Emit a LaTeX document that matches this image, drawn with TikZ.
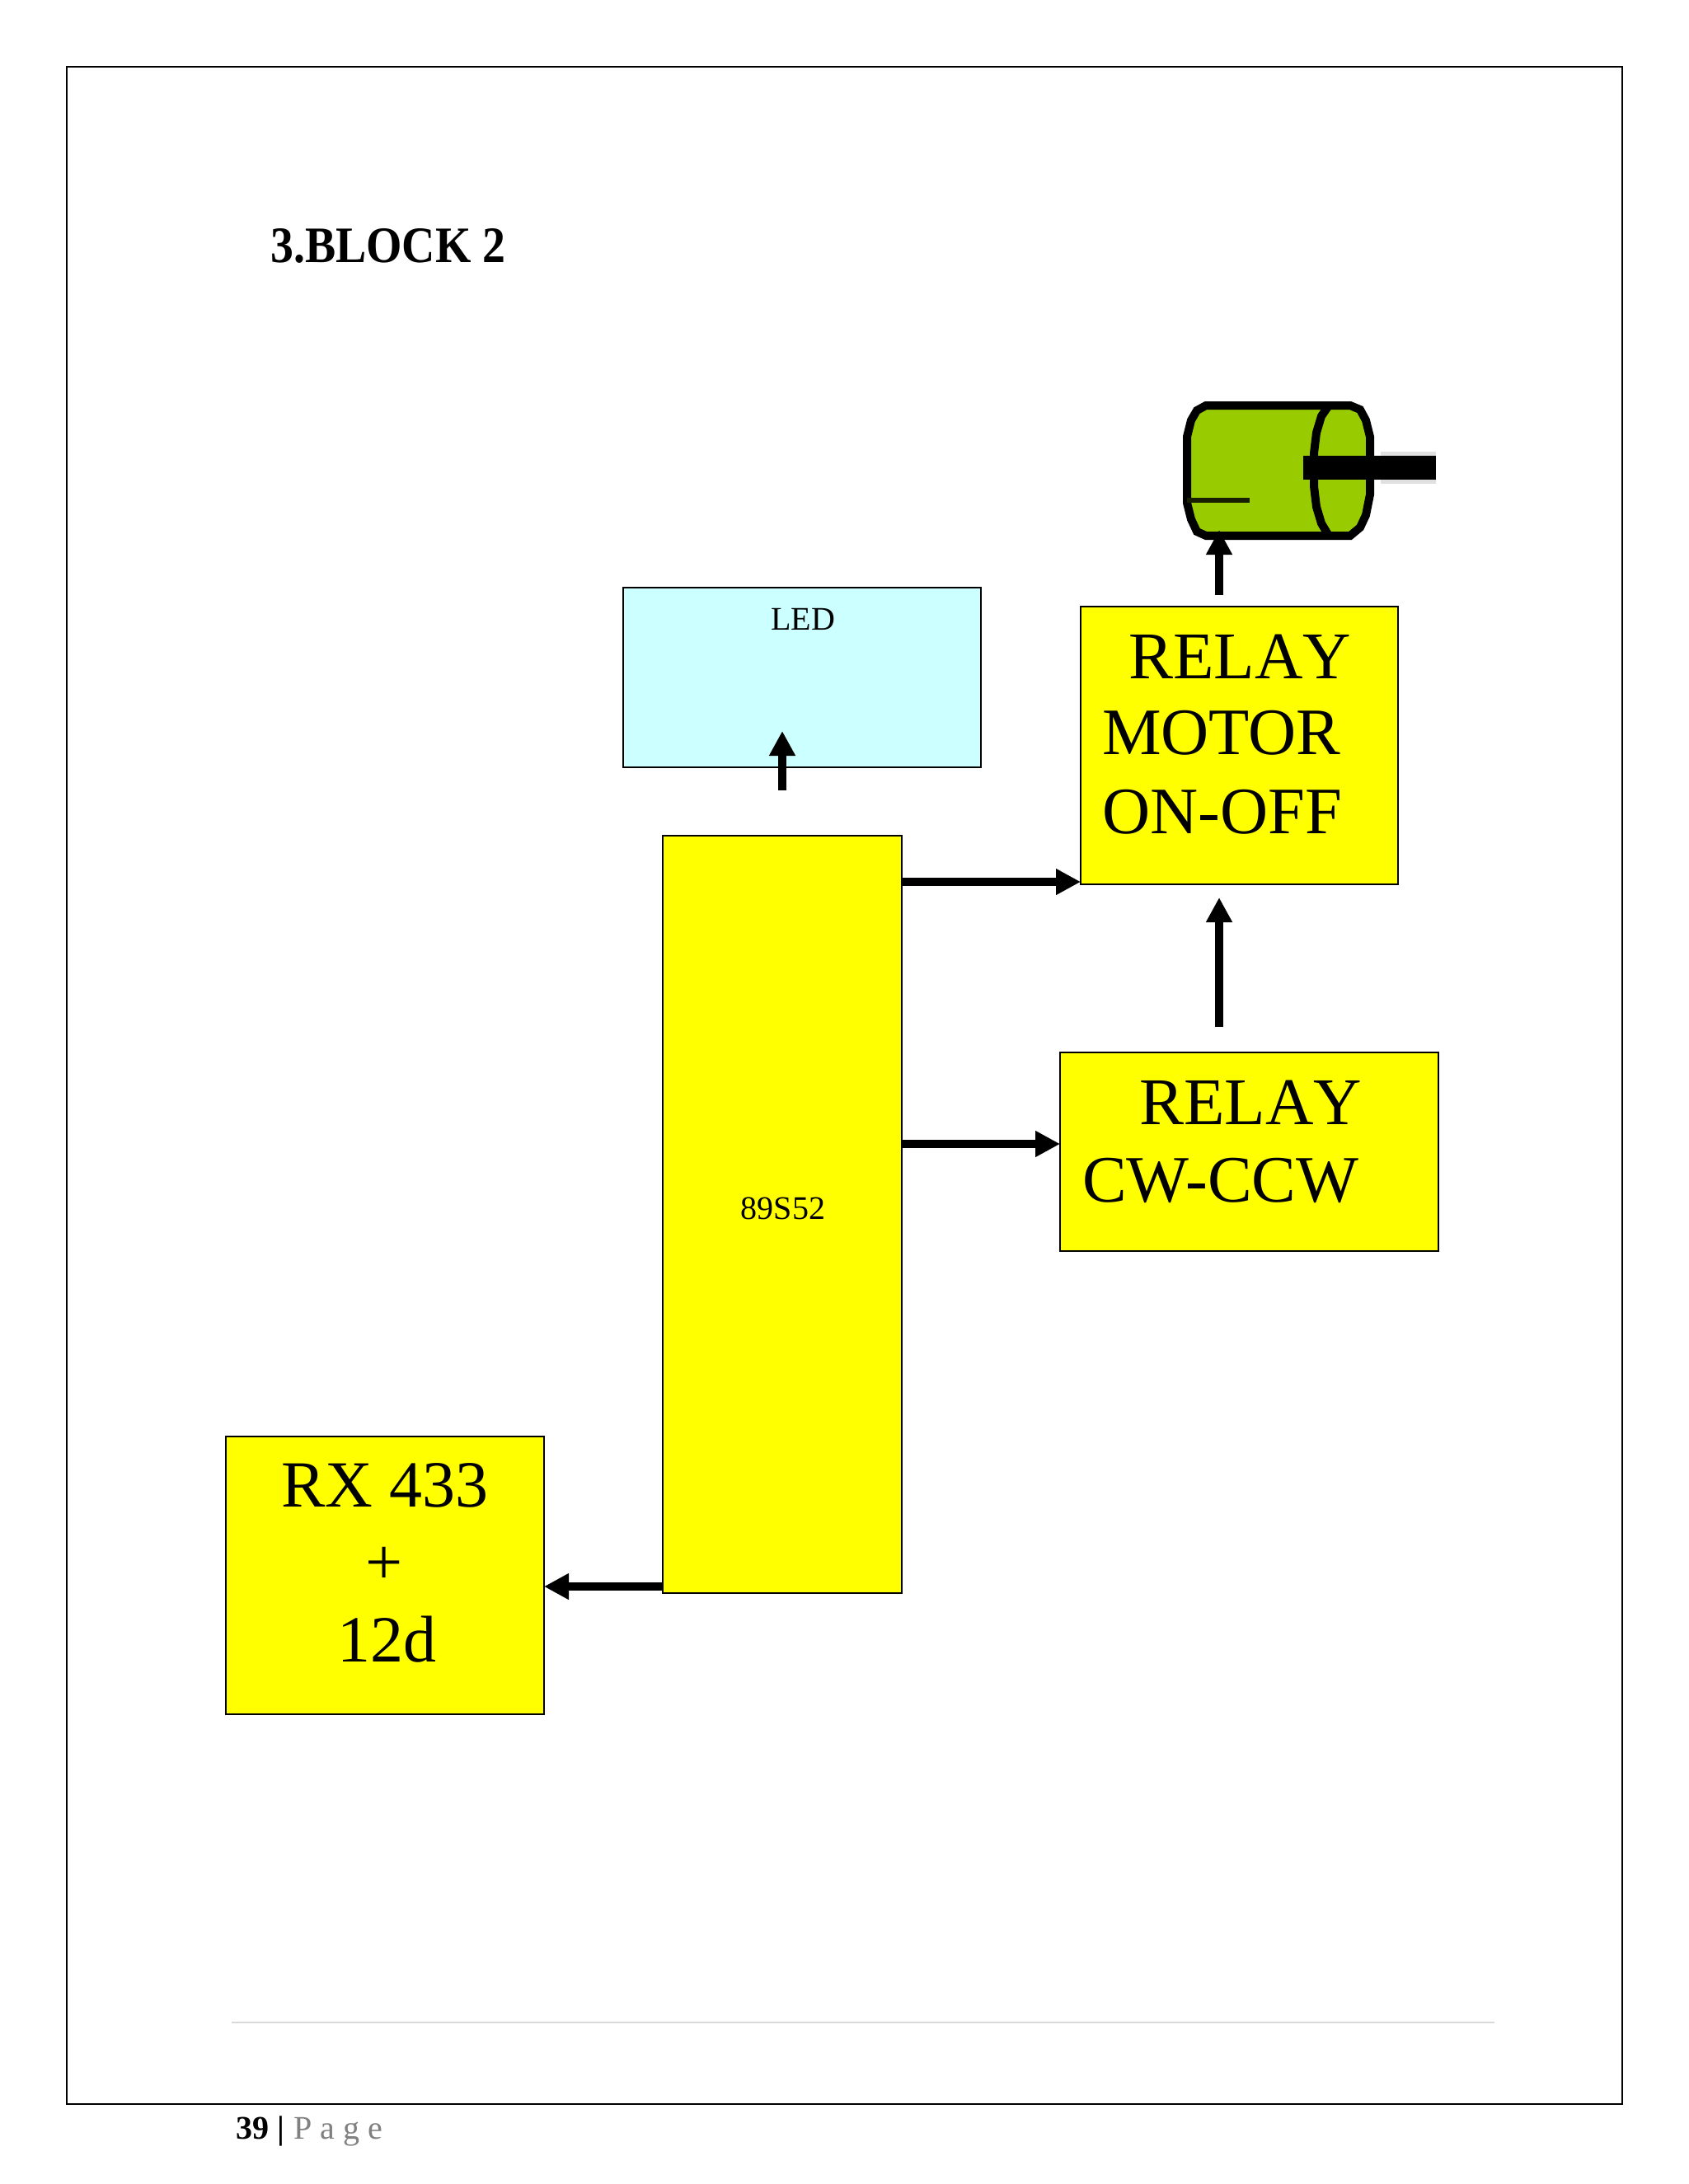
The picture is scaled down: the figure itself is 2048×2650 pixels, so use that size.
\documentclass[tikz,border=0pt]{standalone}
\usepackage{fontspec}
\setmainfont{Liberation Serif}
\newfontfamily\headfont[FakeStretch=0.9]{Liberation Serif}
\newfontfamily\nokernfont[Kerning=Off]{Liberation Serif}
\usetikzlibrary{arrows.meta}
\definecolor{boxyellow}{RGB}{255,255,0}
\definecolor{ledblue}{RGB}{204,255,255}
\definecolor{motorgreen}{RGB}{153,204,0}
\definecolor{pagegrey}{RGB}{128,128,128}
\definecolor{rulegrey}{RGB}{217,217,217}
\tikzset{
  x=1pt,y=-1pt,
  blockbox/.style={draw=black,line width=2.5pt},
  yellowbox/.style={blockbox,fill=boxyellow},
  bigtext/.style={font=\fontsize{80.5}{81}\selectfont,anchor=base west,inner sep=0pt},
  relaytext/.style={font=\nokernfont\fontsize{81}{81}\selectfont,anchor=base west,inner sep=0pt},
  rxtext/.style={font=\fontsize{80}{80}\selectfont,anchor=base west,inner sep=0pt},
  smalltext/.style={font=\fontsize{40}{40}\selectfont,anchor=base,inner sep=0pt},
  pagetext/.style={font=\fontsize{40}{40}\selectfont,anchor=base west,inner sep=0pt},
  thickarrow/.style={line width=10pt,-{Triangle[length=30pt,width=30pt]}},
  motorline/.style={line width=10pt,line join=miter},
}
\begin{document}
\begin{tikzpicture}
\useasboundingbox (0,0) rectangle (2048,2650);
\fill[white] (0,0) rectangle (2048,2650);
\draw[line width=2.5pt] (81,81) rectangle (1968,2553);
\node[anchor=base west,inner sep=0pt,font=\headfont\bfseries\fontsize{62}{62}\selectfont] (title) at (328,318) {3.BLOCK 2};
% blocks
\draw[blockbox,fill=ledblue] (756,713) rectangle (1190,931);
\coordinate (ledin) at (949,887);
\node[smalltext] (led) at (974,764) {LED};
\draw[yellowbox] (1311,736) rectangle (1696,1073);
\draw[yellowbox] (804,1014) rectangle (1094,1933);
\draw[yellowbox] (1286,1277) rectangle (1745,1518);
\draw[yellowbox] (274,1743) rectangle (660,2080);
\node[smalltext] (mcu) at (950,1479) {89S52};
\node[relaytext] (r1) at (1369,823) {RELAY};
\node[bigtext] (r2) at (1337,915) {MOTOR};
\node[bigtext] (r3) at (1337,1011) {ON-OFF};
\node[relaytext] (c1) at (1382,1364) {RELAY};
\node[bigtext] (c2) at (1313,1458) {CW-CCW};
\node[rxtext] (x1) at (341,1828) {RX 433};
\node[rxtext] (x2) at (443,1922) {+};
\node[rxtext] (x3) at (409,2016) {12d};
% motor
\draw[motorline,fill=motorgreen] (1463,492) -- (1638,492) -- (1650,497) -- (1657,510) -- (1662,530) -- (1662,600) -- (1657,625) -- (1650,640) -- (1638,650) -- (1463,650) -- (1452,645) -- (1445,630) -- (1440,610) -- (1440,530) -- (1445,510) -- (1452,498) -- cycle;
\draw[motorline] (1612,492) -- (1603,505) -- (1597,525) -- (1594,550) -- (1594,590) -- (1597,615) -- (1603,635) -- (1612,650);
\draw[line width=6pt,black!85!motorgreen] (1440,607) -- (1516,607);
\fill[black!12] (1675,548) rectangle (1742,553);
\fill[black!12] (1675,582) rectangle (1742,587);
\fill (1581,553) rectangle (1742,582);
% arrows
\coordinate (motorin) at (1479,643);
\draw[thickarrow] (1479,722) -- (motorin);
\draw[thickarrow] (949,959) -- (ledin);
\draw[thickarrow] (1094,1070) -- (1311,1070);
\draw[thickarrow] (1479,1246) -- (1479,1089);
\draw[thickarrow] (1094,1388) -- (1286,1388);
\draw[thickarrow] (804,1925) -- (660,1925);
% footer
\draw[rulegrey,line width=2.5pt] (281,2454) -- (1813,2454);
\node[pagetext] (pgnum) at (286,2595) {\textbf{39}};
\node[pagetext] (pgbar) at (336,2595) {\textbf{|}};
\node[pagetext,text=pagegrey] (pgword) at (356,2595) {P a g e};
\end{tikzpicture}
\end{document}
